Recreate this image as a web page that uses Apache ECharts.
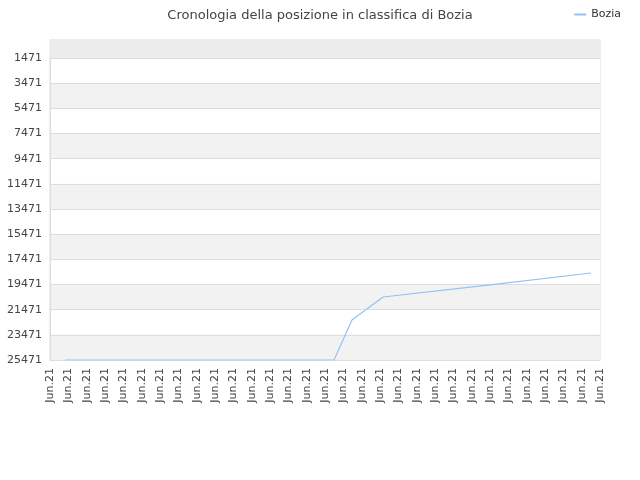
<!DOCTYPE html><html><head><meta charset="utf-8"><script src="https://cdn.jsdelivr.net/npm/echarts@6/dist/echarts.min.js"></script></head><body style="margin:0"><div id="c" style="width:640px;height:480px"></div><script>
const labels = Array(31).fill('Jun.21');
const yTicks = [1471,3471,5471,7471,9471,11471,13471,15471,17471,19471,21471,23471,25471];
const posX = [0.82, 15.49, 16.47, 18.17, 24, 29.51];
const rank = [25471, 25471, 22292, 20464, 19500, 18557];
const c = echarts.init(document.getElementById('c'));
c.setOption({
  title:{text:'Cronologia della posizione in classifica di Bozia',left:'center',top:4,textStyle:{fontSize:13,fontWeight:'normal',color:'#444',fontFamily:'DejaVu Sans'}},
  legend:{right:14,top:4,itemWidth:12,itemHeight:2,icon:'rect',textStyle:{fontSize:11,color:'#333',fontFamily:'DejaVu Sans'},data:['Bozia']},
  grid:{left:50,right:40,top:40,bottom:120,show:true,borderColor:'#ddd',borderWidth:1},
  xAxis:[{type:'category',data:labels,boundaryGap:false,axisLine:{lineStyle:{color:'#ddd'}},axisTick:{show:false},
    axisLabel:{rotate:90,interval:0,fontSize:11,color:'#444',fontFamily:'DejaVu Sans'},splitLine:{show:false}},
    {type:'value',min:0,max:30,show:false}],
  yAxis:{type:'value',inverse:true,min:41,max:25471,
    axisLine:{show:true,lineStyle:{color:'#ddd'}},axisTick:{show:false,customValues:yTicks},
    axisLabel:{customValues:yTicks,formatter:v=>String(v),fontSize:11,color:'#444',fontFamily:'DejaVu Sans'},
    splitLine:{show:true,lineStyle:{color:'#ddd'}},splitArea:{show:true,areaStyle:{color:['#fff','#f2f2f2']}}},
  series:[{name:'Bozia',type:'line',xAxisIndex:1,showSymbol:false,symbol:'none',lineStyle:{color:'#90c3f5',width:1.2},itemStyle:{color:'#90c3f5'},
    data:posX.map((x,i)=>[x,rank[i]]),
    markArea:{silent:true,itemStyle:{color:'#ececec'},data:[[{yAxis:41},{yAxis:1471}]]}}]
});
</script></body></html>
